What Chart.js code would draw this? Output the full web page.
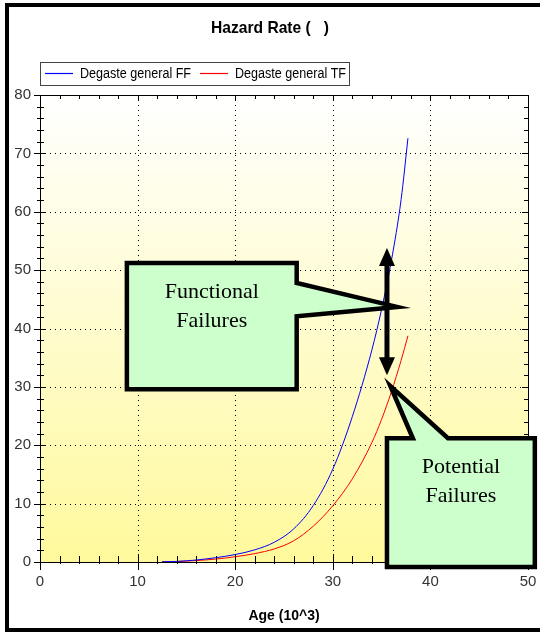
<!DOCTYPE html>
<html>
<head>
<meta charset="utf-8">
<script src="https://cdn.jsdelivr.net/npm/chart.js@4.4.1/dist/chart.umd.min.js"></script>
<style>
  html, body { margin: 0; padding: 0; background: #fff; }
</style>
</head>
<body>
<canvas id="hazard" width="540" height="633"></canvas>
<script>
// age in 10^3, hazard rate
var ages = [12.5, 14, 16, 18, 20, 22, 24, 26, 28, 30, 32, 34, 35, 36, 37, 37.7];
var rateFF = [0.03, 0.1, 0.34, 0.74, 1.28, 2.08, 3.38, 5.68, 9.68, 15.9, 24.9, 36.3, 43.3, 51.6, 62.1, 72.6];
var rateTF = [0.02, 0.08, 0.24, 0.5, 0.9, 1.44, 2.24, 3.64, 6.14, 9.64, 14.24, 20.44, 24.44, 29.14, 34.54, 38.74];
var xTicks = [0, 10, 20, 30, 40, 50];
var yTicks = [0, 10, 20, 30, 40, 50, 60, 70, 80];
var seriesNames = ["Degaste general FF", "Degaste general TF"];
var seriesColors = ["#0000ff", "#ff0000"];

var SANS = '"Liberation Sans", Arial, sans-serif';
var SERIF = '"Liberation Serif", "Times New Roman", serif';

function toPoints(xs, ys) {
  return xs.map(function (x, i) { return { x: x, y: ys[i] }; });
}

// draw text squeezed to a given width (the original uses a narrow face)
function narrowText(ctx, text, x, y, width) {
  var w = ctx.measureText(text).width;
  var sx = width / w;
  ctx.save();
  ctx.translate(x, y);
  ctx.scale(sx, 1);
  ctx.fillText(text, 0, 0);
  ctx.restore();
}

// callouts, in data units
var callouts = [
  { text: ["Functional", "Failures"], box: [8.9, 51.2, 26.3, 29.6],
    side: "right", base: [47.8, 42.1], tip: [36.6, 43.7] },
  { text: ["Potential", "Failures"], box: [35.55, 21.2, 50.7, -0.86],
    side: "top", base: [38.2, 41.8], tip: [35.9, 30.15] }
];
var doubleArrow = { x: 35.55, y1: 53.8, y2: 32.0 };

var decor = {
  id: "decor",
  beforeDraw: function (chart) {
    var ctx = chart.ctx, a = chart.chartArea;
    ctx.save();
    ctx.fillStyle = "#fff";
    ctx.fillRect(0, 0, chart.width, chart.height);
    var g = ctx.createLinearGradient(0, a.top, 0, a.bottom);
    g.addColorStop(0, "#ffffff");
    g.addColorStop(1, "#fff99c");
    ctx.fillStyle = g;
    ctx.fillRect(a.left, a.top, a.right - a.left, a.bottom - a.top);

    // dotted grid
    var xs = chart.scales.x, ys = chart.scales.y;
    ctx.strokeStyle = "#000";
    ctx.lineWidth = 1;
    ctx.setLineDash([1, 4]);
    xTicks.slice(1, -1).forEach(function (v) {
      var px = Math.round(xs.getPixelForValue(v)) + 0.5;
      ctx.beginPath(); ctx.moveTo(px, a.top); ctx.lineTo(px, a.bottom); ctx.stroke();
    });
    yTicks.slice(1, -1).forEach(function (v) {
      var py = Math.round(ys.getPixelForValue(v)) + 0.5;
      ctx.beginPath(); ctx.moveTo(a.left, py); ctx.lineTo(a.right, py); ctx.stroke();
    });
    ctx.restore();
  },
  afterDatasetsDraw: function (chart) {
    var ctx = chart.ctx, a = chart.chartArea;
    var xs = chart.scales.x, ys = chart.scales.y;
    ctx.save();
    ctx.strokeStyle = "#000";
    ctx.lineWidth = 1;
    ctx.strokeRect(Math.round(a.left) + 0.5, Math.round(a.top) + 0.5,
      Math.round(a.right - a.left), Math.round(a.bottom - a.top));
    ctx.beginPath();
    for (var v = 0; v <= 50; v += 2) {
      var px = Math.round(xs.getPixelForValue(v)) + 0.5;
      var major = v % 10 === 0;
      ctx.moveTo(px, a.bottom - (major ? 8 : 6)); ctx.lineTo(px, a.bottom + (major ? 8 : 2));
      ctx.moveTo(px, a.top); ctx.lineTo(px, a.top + (major ? 6 : 4));
    }
    for (var w = 0; w <= 80; w += 2) {
      var py = Math.round(ys.getPixelForValue(w)) + 0.5;
      var maj = w % 10 === 0;
      ctx.moveTo(a.left - (maj ? 6 : 3), py); ctx.lineTo(a.left + (maj ? 6 : 4), py);
      ctx.moveTo(a.right, py); ctx.lineTo(a.right - (maj ? 6 : 4), py);
    }
    ctx.stroke();
    ctx.restore();
  },
  afterDraw: function (chart) {
    var ctx = chart.ctx;
    var xs = chart.scales.x, ys = chart.scales.y;
    var X = function (v) { return xs.getPixelForValue(v); };
    var Y = function (v) { return ys.getPixelForValue(v); };
    ctx.save();

    // title
    ctx.fillStyle = "#000";
    ctx.font = "bold 17px " + SANS;
    ctx.textAlign = "left";
    ctx.textBaseline = "middle";
    narrowText(ctx, "Hazard Rate (   )", 211, 28, 118);

    // legend
    ctx.strokeStyle = "#444";
    ctx.lineWidth = 1;
    ctx.strokeRect(40.5, 62.5, 309, 23);
    ctx.font = "14px " + SANS;
    var samples = [45, 200];
    chart.data.datasets.forEach(function (ds, i) {
      var lx = samples[i];
      ctx.strokeStyle = ds.borderColor;
      ctx.lineWidth = 1.2;
      ctx.beginPath(); ctx.moveTo(lx, 73.5); ctx.lineTo(lx + 28, 73.5); ctx.stroke();
      ctx.fillStyle = "#000";
      narrowText(ctx, ds.label, lx + 35, 74, 111);
    });

    // callouts
    ctx.lineJoin = "miter";
    callouts.forEach(function (c) {
      var l = X(c.box[0]), t = Y(c.box[1]), r = X(c.box[2]), b = Y(c.box[3]);
      ctx.beginPath();
      ctx.moveTo(l, t);
      if (c.side === "top") {
        ctx.lineTo(X(c.base[0]), t);
        ctx.lineTo(X(c.tip[0]), Y(c.tip[1]));
        ctx.lineTo(X(c.base[1]), t);
      }
      ctx.lineTo(r, t);
      if (c.side === "right") {
        ctx.lineTo(r, Y(c.base[0]));
        ctx.lineTo(X(c.tip[0]), Y(c.tip[1]));
        ctx.lineTo(r, Y(c.base[1]));
      }
      ctx.lineTo(r, b);
      ctx.lineTo(l, b);
      ctx.closePath();
      ctx.fillStyle = "#ccffcc";
      ctx.fill();
      ctx.strokeStyle = "#000";
      ctx.lineWidth = 4.5;
      ctx.stroke();
      ctx.fillStyle = "#000";
      ctx.font = "22px " + SERIF;
      ctx.textAlign = "center";
      ctx.textBaseline = "alphabetic";
      var cx = (l + r) / 2;
      ctx.fillText(c.text[0], cx, t + 35);
      ctx.fillText(c.text[1], cx, t + 64);
    });

    // double arrow
    var ax = X(doubleArrow.x), top = Y(doubleArrow.y1), bot = Y(doubleArrow.y2);
    ctx.strokeStyle = "#000";
    ctx.lineWidth = 5;
    ctx.beginPath(); ctx.moveTo(ax, top + 15); ctx.lineTo(ax, bot - 15); ctx.stroke();
    ctx.fillStyle = "#000";
    ctx.beginPath(); ctx.moveTo(ax, top); ctx.lineTo(ax - 8, top + 18); ctx.lineTo(ax + 8, top + 18); ctx.closePath(); ctx.fill();
    ctx.beginPath(); ctx.moveTo(ax, bot); ctx.lineTo(ax - 8, bot - 18); ctx.lineTo(ax + 8, bot - 18); ctx.closePath(); ctx.fill();

    // outer frame
    ctx.lineWidth = 4;
    ctx.strokeStyle = "#000";
    ctx.strokeRect(7, 5, 600, 625);
    ctx.restore();
  }
};

new Chart(document.getElementById("hazard"), {
  type: "line",
  data: {
    datasets: [
      {
        label: seriesNames[0],
        data: toPoints(ages, rateFF),
        borderColor: seriesColors[0],
        borderWidth: 1,
        pointRadius: 0,
        cubicInterpolationMode: "monotone",
        fill: false
      },
      {
        label: seriesNames[1],
        data: toPoints(ages, rateTF),
        borderColor: seriesColors[1],
        borderWidth: 1,
        pointRadius: 0,
        cubicInterpolationMode: "monotone",
        fill: false
      }
    ]
  },
  options: {
    responsive: false,
    animation: false,
    devicePixelRatio: 1,
    layout: { padding: { top: 95, right: 12, left: 0, bottom: 0 } },
    plugins: {
      legend: { display: false },
      title: { display: false },
      tooltip: { enabled: false }
    },
    scales: {
      x: {
        type: "linear",
        min: 0,
        max: 50,
        afterBuildTicks: function (s) { s.ticks = xTicks.map(function (v) { return { value: v }; }); },
        afterFit: function (s) { s.height = 71; s.paddingLeft = 0; s.paddingRight = 0; },
        grid: { display: false, drawTicks: false },
        border: { display: false },
        ticks: { padding: 11, color: "#333", maxRotation: 0, autoSkip: false, font: { family: SANS, size: 15 } },
        title: { display: true, text: "Age (10^3)", color: "#000", font: { family: SANS, size: 14, weight: "bold" }, padding: { top: 0, bottom: 8 } }
      },
      y: {
        type: "linear",
        min: 0,
        max: 80,
        afterBuildTicks: function (s) { s.ticks = yTicks.map(function (v) { return { value: v }; }); },
        afterFit: function (s) { s.width = 40; s.paddingTop = 0; s.paddingBottom = 0; },
        grid: { display: false, drawTicks: false },
        border: { display: false },
        ticks: { padding: 9, color: "#333", autoSkip: false, font: { family: SANS, size: 15 } }
      }
    }
  },
  plugins: [decor]
});
</script>
</body>
</html>
